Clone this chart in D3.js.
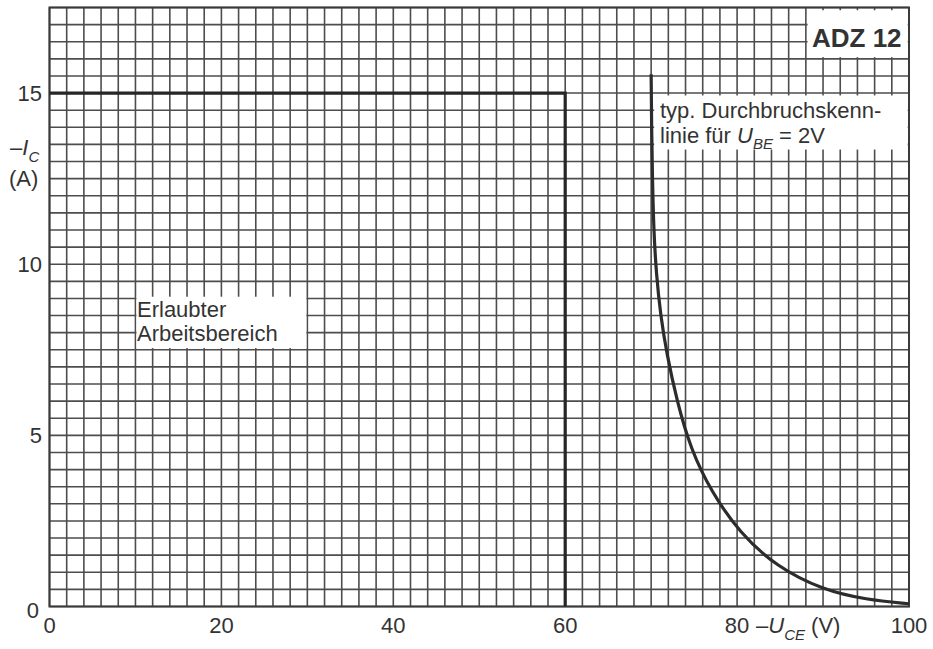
<!DOCTYPE html>
<html>
<head>
<meta charset="utf-8">
<script src="https://cdn.jsdelivr.net/npm/d3@7"></script>
<style>
  body { margin: 0; background: #fff; }
  text { font-family: "Liberation Sans", Arial, sans-serif; fill: #333; }
</style>
</head>
<body>
<div id="chart"></div>
<script>
// -U_CE (V) / -I_C (A)
var x_ticks = [0, 20, 40, 60, 80, 100]
var y_ticks = [5, 10, 15]

// safe operating area boundary
var soa_uce = [0, 60, 60]
var soa_ic = [15, 15, 0]

// typical breakdown characteristic for U_BE = 2V
var bd_uce = [70.0, 70.05, 70.15, 70.3, 70.6, 71.1, 71.8, 73.0, 74.6, 77.0, 80.3, 84.6, 90.0, 95.0, 100]
var bd_ic = [15.55, 14.0, 12.5, 11.0, 9.7, 8.5, 7.4, 6.0, 4.6, 3.35, 2.15, 1.16, 0.48, 0.2, 0.08]

var w = 933
var h = 649

var x = d3.scaleLinear().domain([0, 100]).range([49.5, 909])
var y = d3.scaleLinear().domain([0, 17.5]).range([606.5, 7.5])

var svg = d3.select('#chart').append('svg')
  .attr('width', w)
  .attr('height', h)
  .attr('viewBox', [0, 0, w, h].join(' '))

svg.append('rect').attr('width', w).attr('height', h).attr('fill', '#fff')

// grid: every 2 V and every 0.5 A
var grid = svg.append('g')
  .attr('stroke', '#4d4d4d')
  .attr('stroke-width', 1.6)

d3.range(0, 100.1, 2).forEach(function (v) {
  grid.append('line')
    .attr('x1', x(v)).attr('x2', x(v))
    .attr('y1', y(0)).attr('y2', y(17.5))
})
d3.range(0, 17.6, 0.5).forEach(function (a) {
  grid.append('line')
    .attr('x1', x(0)).attr('x2', x(100))
    .attr('y1', y(a)).attr('y2', y(a))
})

// frame
svg.append('rect')
  .attr('x', x(0)).attr('y', y(17.5))
  .attr('width', x(100) - x(0)).attr('height', y(0) - y(17.5))
  .attr('fill', 'none')
  .attr('stroke', '#3a3a3a')
  .attr('stroke-width', 2)

// white label patches over the grid
function patch (x0, x1, y0, y1) {
  svg.append('rect')
    .attr('x', x(x0)).attr('y', y(y0))
    .attr('width', x(x1) - x(x0)).attr('height', y(y1) - y(y0))
    .attr('fill', '#fff')
}
patch(88.2, 99.85, 17.42, 16.05)
patch(70.35, 99.85, 14.93, 13.35)
patch(10.12, 29.88, 9.05, 7.55)

var line = d3.line()
  .x(function (d) { return x(d[0]) })
  .y(function (d) { return y(d[1]) })

// safe operating area
svg.append('path')
  .datum(soa_uce.map(function (v, i) { return [v, soa_ic[i]] }))
  .attr('d', line)
  .attr('fill', 'none')
  .attr('stroke', '#262626')
  .attr('stroke-width', 3.2)

// breakdown curve
svg.append('path')
  .datum(bd_uce.map(function (v, i) { return [v, bd_ic[i]] }))
  .attr('d', d3.line()
    .x(function (d) { return x(d[0]) })
    .y(function (d) { return y(d[1]) })
    .curve(d3.curveBasis))
  .attr('fill', 'none')
  .attr('stroke', '#2c2c2c')
  .attr('stroke-width', 3.2)

// tick labels
x_ticks.forEach(function (v) {
  svg.append('text').text(v)
    .attr('x', x(v))
    .attr('y', 633)
    .attr('text-anchor', 'middle')
    .style('font-size', '22px')
})
y_ticks.forEach(function (a) {
  svg.append('text').text(a)
    .attr('x', 42)
    .attr('y', y(a))
    .attr('dy', '0.36em')
    .attr('text-anchor', 'end')
    .style('font-size', '22px')
})
svg.append('text').text(0)
  .attr('x', 39).attr('y', 618)
  .attr('text-anchor', 'end')
  .style('font-size', '22px')

// axis titles
var yl = svg.append('text').attr('x', 10).attr('y', 155).style('font-size', '22px')
yl.append('tspan').text('–')
yl.append('tspan').text('I').style('font-style', 'italic')
yl.append('tspan').text('C').attr('dy', 7).style('font-size', '15px').style('font-style', 'italic')
svg.append('text').text('(A)').attr('x', 9).attr('y', 186).style('font-size', '22px')

var xl = svg.append('text').attr('x', 756).attr('y', 633).style('font-size', '22px')
xl.append('tspan').text('–')
xl.append('tspan').text('U').style('font-style', 'italic')
xl.append('tspan').text('CE').attr('dy', 7).style('font-size', '15px').style('font-style', 'italic')
xl.append('tspan').text(' (V)').attr('dy', -7)

// annotations
svg.append('text').text('ADZ 12')
  .attr('x', 812).attr('y', 47)
  .style('font-size', '26px').style('font-weight', 'bold')

svg.append('text').text('typ. Durchbruchskenn-')
  .attr('x', 660).attr('y', 118)
  .style('font-size', '22px')
var t2 = svg.append('text').attr('x', 660).attr('y', 143).style('font-size', '22px')
t2.append('tspan').text('linie für ')
t2.append('tspan').text('U').style('font-style', 'italic')
t2.append('tspan').text('BE').attr('dy', 6).style('font-size', '15px').style('font-style', 'italic')
t2.append('tspan').text(' = 2V').attr('dy', -6)

svg.append('text').text('Erlaubter')
  .attr('x', 137).attr('y', 317)
  .style('font-size', '22px')
svg.append('text').text('Arbeitsbereich')
  .attr('x', 137).attr('y', 341)
  .style('font-size', '22px')
</script>
</body>
</html>
